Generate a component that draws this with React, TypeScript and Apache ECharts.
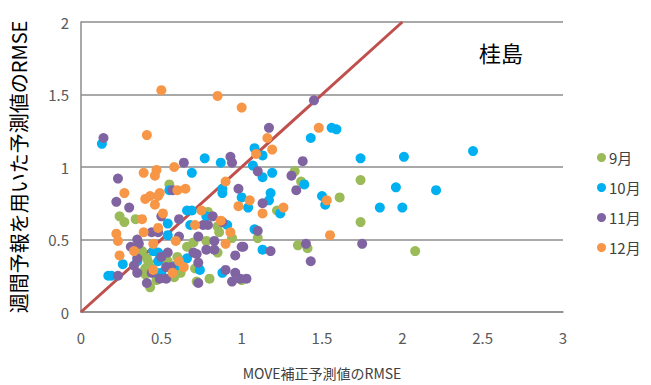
import React, { useEffect, useRef } from "react";
import * as echarts from "echarts";

// RMSE pairs [MOVE補正予測値, 週間予報を用いた予測値] per month
const months = ["9月", "10月", "11月", "12月"];

const sep: number[][] = [
  [0.55, 0.88], [1.33, 0.97], [1.37, 0.9], [1.74, 0.91], [1.61, 0.79], [1.22, 0.7],
  [1.74, 0.62], [1.1, 0.51], [1.35, 0.46], [1.41, 0.44], [2.08, 0.42], [1.0, 0.22],
  [0.24, 0.66], [0.27, 0.62], [0.34, 0.64], [0.79, 0.69], [0.85, 0.59], [0.7, 0.48],
  [0.78, 0.49], [0.86, 0.55], [0.94, 0.51], [0.38, 0.42], [0.41, 0.37], [0.42, 0.34],
  [0.49, 0.36], [0.4, 0.3], [0.43, 0.17], [0.47, 0.22], [0.54, 0.35], [0.62, 0.27],
  [0.71, 0.3], [0.85, 0.41], [0.8, 0.23], [0.72, 0.21], [0.4, 0.26], [0.58, 0.24],
  [0.44, 0.3], [0.6, 0.38], [0.66, 0.45],
];

const oct: number[][] = [
  [0.13, 1.16], [1.08, 1.13], [0.77, 1.06], [0.87, 1.03], [1.07, 1.01], [0.69, 0.96],
  [0.55, 0.84], [0.88, 0.85], [0.88, 0.82], [1.0, 0.79], [1.56, 1.27], [1.59, 1.26],
  [1.43, 1.2], [1.13, 1.08], [1.74, 1.06], [2.01, 1.07], [1.13, 0.93], [1.19, 0.96],
  [1.39, 0.88], [1.96, 0.86], [1.5, 0.8], [1.18, 0.82], [1.17, 0.77], [1.52, 0.74],
  [1.86, 0.72], [2.0, 0.72], [1.04, 0.72], [1.24, 0.68], [1.08, 0.57], [1.13, 0.43],
  [2.44, 1.11], [2.21, 0.84], [0.66, 0.7], [0.69, 0.7], [0.78, 0.66], [0.68, 0.6],
  [0.91, 0.6], [0.54, 0.61], [0.54, 0.53], [0.26, 0.33], [0.19, 0.25], [0.17, 0.25],
  [0.35, 0.35], [0.45, 0.42], [0.48, 0.41], [0.48, 0.35], [0.47, 0.27], [0.59, 0.32],
  [0.66, 0.37], [0.74, 0.29], [0.88, 0.27], [0.5, 0.27],
];

const nov: number[][] = [
  [0.14, 1.2], [0.93, 1.07], [0.94, 1.03], [0.64, 1.03], [1.1, 0.97], [0.23, 0.92],
  [0.57, 0.84], [0.98, 0.85], [0.22, 0.76], [1.45, 1.46], [1.17, 1.27], [1.38, 1.04],
  [1.31, 0.94], [1.34, 0.84], [1.13, 0.75], [1.1, 0.56], [1.01, 0.45], [1.18, 0.42],
  [1.4, 0.47], [1.43, 0.35], [1.75, 0.47], [1.03, 0.23], [0.3, 0.72], [0.5, 0.66],
  [0.61, 0.64], [0.82, 0.66], [0.76, 0.6], [0.79, 0.6], [0.88, 0.62], [0.44, 0.55],
  [0.48, 0.55], [0.61, 0.52], [0.73, 0.52], [0.83, 0.49], [1.0, 0.45], [0.35, 0.5],
  [0.31, 0.45], [0.36, 0.47], [0.35, 0.37], [0.33, 0.32], [0.35, 0.27], [0.54, 0.41],
  [0.5, 0.38], [0.41, 0.2], [0.49, 0.23], [0.53, 0.23], [0.53, 0.31], [0.56, 0.31],
  [0.7, 0.41], [0.72, 0.4], [0.73, 0.34], [0.78, 0.43], [0.83, 0.43], [0.73, 0.2],
  [0.9, 0.29], [0.96, 0.27], [0.96, 0.39], [0.94, 0.21], [0.99, 0.23], [0.23, 0.25],
  [0.44, 0.27],
];

const dec: number[][] = [
  [0.5, 1.53], [0.85, 1.49], [1.0, 1.41], [0.41, 1.22], [1.09, 1.09], [0.58, 1.0],
  [0.47, 0.98], [0.39, 0.96], [0.46, 0.94], [0.9, 0.9], [0.65, 0.85], [0.6, 0.84],
  [0.27, 0.82], [0.43, 0.8], [0.49, 0.82], [0.4, 0.78], [1.05, 0.77], [1.48, 1.27],
  [1.16, 1.2], [1.19, 1.12], [1.53, 0.77], [1.13, 0.68], [1.26, 0.72], [1.55, 0.53],
  [0.48, 0.8], [0.46, 0.74], [0.98, 0.73], [0.38, 0.64], [0.51, 0.68], [0.75, 0.7],
  [0.87, 0.63], [0.71, 0.6], [0.48, 0.58], [0.22, 0.54], [0.23, 0.49], [0.39, 0.55],
  [0.59, 0.49], [0.9, 0.47], [0.93, 0.55], [0.33, 0.42], [0.24, 0.39], [0.45, 0.47],
  [0.45, 0.29], [0.57, 0.27], [0.61, 0.35], [0.64, 0.31],
];

// 1:1 reference line
const diagonal: number[][] = [[0, 0], [2, 2]];

const monthData = [sep, oct, nov, dec];
const monthColors = ["#9BBB59", "#00B0F0", "#8064A2", "#F79646"];

const FONT = "'Noto Sans CJK JP', 'Noto Sans', sans-serif";

export default function App() {
  const ref = useRef<HTMLDivElement>(null);

  useEffect(() => {
    if (!ref.current) return;
    const chart = echarts.init(ref.current, undefined, { renderer: "svg" });
    chart.setOption({
      animation: false,
      textStyle: { fontFamily: FONT },
      title: {
        text: "桂島",
        left: 474,
        top: 36,
        textStyle: { fontSize: 22, fontWeight: "normal", color: "#000", fontFamily: FONT },
      },
      legend: {
        orient: "vertical",
        left: 592,
        top: 145,
        itemWidth: 9,
        itemHeight: 9,
        itemGap: 15,
        icon: "circle",
        data: months,
        textStyle: { fontSize: 15, color: "#404040", fontFamily: FONT, padding: [0, 0, 0, -2] },
      },
      grid: { left: 78, right: 88, top: 22, bottom: 62 },
      xAxis: {
        type: "value",
        min: 0,
        max: 3,
        interval: 0.5,
        name: "MOVE補正予測値のRMSE",
        nameLocation: "middle",
        nameGap: 54,
        nameTextStyle: { fontSize: 14, color: "#404040", fontFamily: FONT },
        axisLine: { show: true, lineStyle: { color: "#8c8c8c", width: 1.5 } },
        axisTick: { show: false },
        axisLabel: { fontSize: 15, color: "#595959", margin: 18, fontFamily: FONT },
        splitLine: { show: false },
      },
      yAxis: {
        type: "value",
        min: 0,
        max: 2,
        interval: 0.5,
        name: "週間予報を用いた予測値のRMSE",
        nameLocation: "middle",
        nameGap: 53,
        nameTextStyle: { fontSize: 20, color: "#000", fontFamily: FONT },
        axisLine: { show: true, lineStyle: { color: "#8c8c8c", width: 1.5 } },
        axisTick: { show: false },
        axisLabel: { fontSize: 15, color: "#595959", margin: 12, fontFamily: FONT },
        splitLine: { show: true, lineStyle: { color: "#8c8c8c", width: 1.5 } },
      },
      series: [
        {
          type: "line",
          data: diagonal,
          showSymbol: false,
          silent: true,
          lineStyle: { color: "#C0504D", width: 3 },
          z: 1,
        },
        ...months.map((m, i) => ({
          name: m,
          type: "scatter",
          data: monthData[i],
          symbolSize: 10,
          itemStyle: { color: monthColors[i], opacity: 1 },
          z: 2 + i,
        })),
      ],
    });
    return () => chart.dispose();
  }, []);

  return (
    <div
      ref={ref}
      style={{ position: "absolute", left: 0, top: 0, width: 651, height: 385 }}
    />
  );
}
